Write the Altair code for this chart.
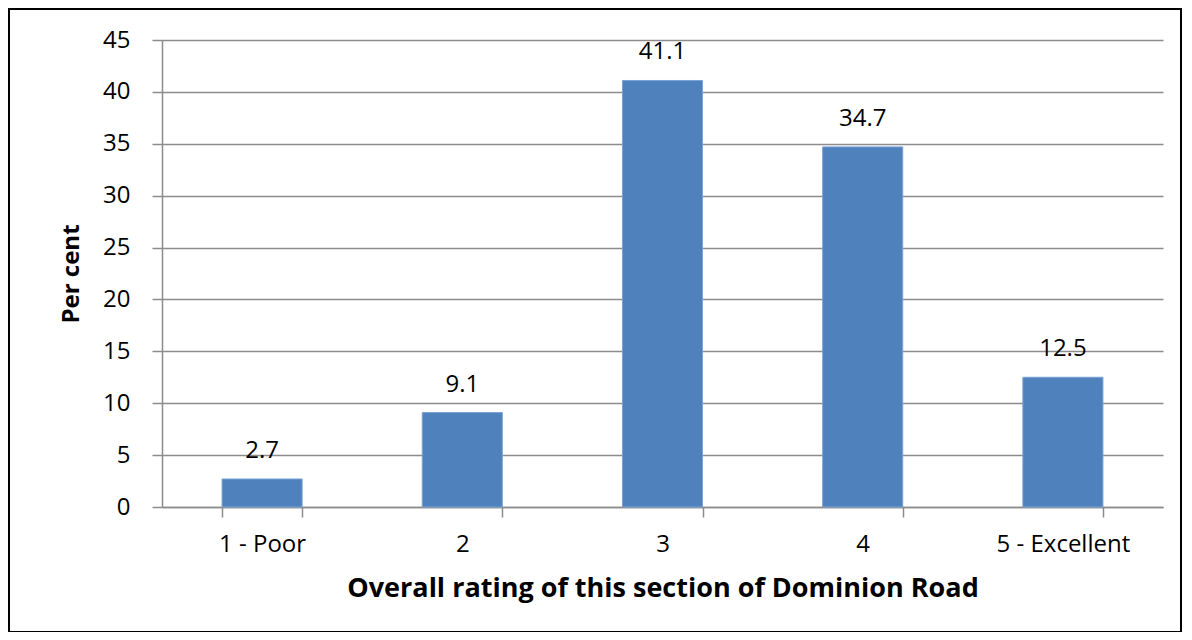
import altair as alt
import pandas as pd

categories = ["1 - Poor", "2", "3", "4", "5 - Excellent"]
values = [2.7, 9.1, 41.1, 34.7, 12.5]
labels = ["2.7", "9.1", "41.1", "34.7", "12.5"]

df = pd.DataFrame({"rating": categories, "pct": values, "label": labels})

FONT = "Open Sans"
W, H = 1001, 467
GRAY = "#8C8C8C"

x = alt.X(
    "rating:N",
    sort=categories,
    scale=alt.Scale(paddingInner=0.6, paddingOuter=0.3),
    axis=alt.Axis(
        title="Overall rating of this section of Dominion Road",
        labelAngle=0,
        tickBand="extent",
        tickSize=10,
        tickColor=GRAY,
        tickWidth=1.5,
        domainColor=GRAY,
        domainWidth=1.5,
        labelPadding=15,
        labelFontSize=24,
        labelColor="#000000",
        titleFontSize=27,
        titleFontWeight="bold",
        titleColor="#000000",
        titlePadding=19,
        grid=False,
    ),
)

y = alt.Y(
    "pct:Q",
    scale=alt.Scale(domain=[0, 45]),
    axis=alt.Axis(
        title="Per cent",
        values=list(range(0, 50, 5)),
        tickSize=10,
        tickColor=GRAY,
        tickWidth=1.5,
        domainColor=GRAY,
        domainWidth=1.5,
        gridColor=GRAY,
        gridWidth=1.5,
        labelPadding=22,
        labelFontSize=24,
        labelColor="#000000",
        titleFontSize=24,
        titleFontWeight="bold",
        titleColor="#000000",
        titlePadding=19,
    ),
)

bars = alt.Chart(df).mark_bar(color="#4F81BD", stroke="#7AA3D6", strokeWidth=1).encode(x=x, y=y)

text = alt.Chart(df).mark_text(
    baseline="alphabetic", dy=-21, fontSize=24, font=FONT, color="#000000"
).encode(x=alt.X("rating:N", sort=categories), y="pct:Q", text="label:N")

border = alt.Chart(pd.DataFrame({"k": [0]})).mark_rect(
    fill=None, stroke="#000000", strokeWidth=2, clip=False
).encode(
    x=alt.value(-153), x2=alt.value(1019), y=alt.value(-31), y2=alt.value(592)
)

chart = (
    alt.layer(border, bars, text)
    .properties(
        width=W,
        height=H,
        autosize=alt.AutoSizeParams(type="none"),
        padding={"left": 154, "top": 32, "right": 20, "bottom": 125},
    )
    .configure(font=FONT)
    .configure_view(stroke=None)
    .configure_axis(labelFont=FONT, titleFont=FONT)
)

chart.save("out.html", embed_options={"renderer": "svg", "actions": False})
